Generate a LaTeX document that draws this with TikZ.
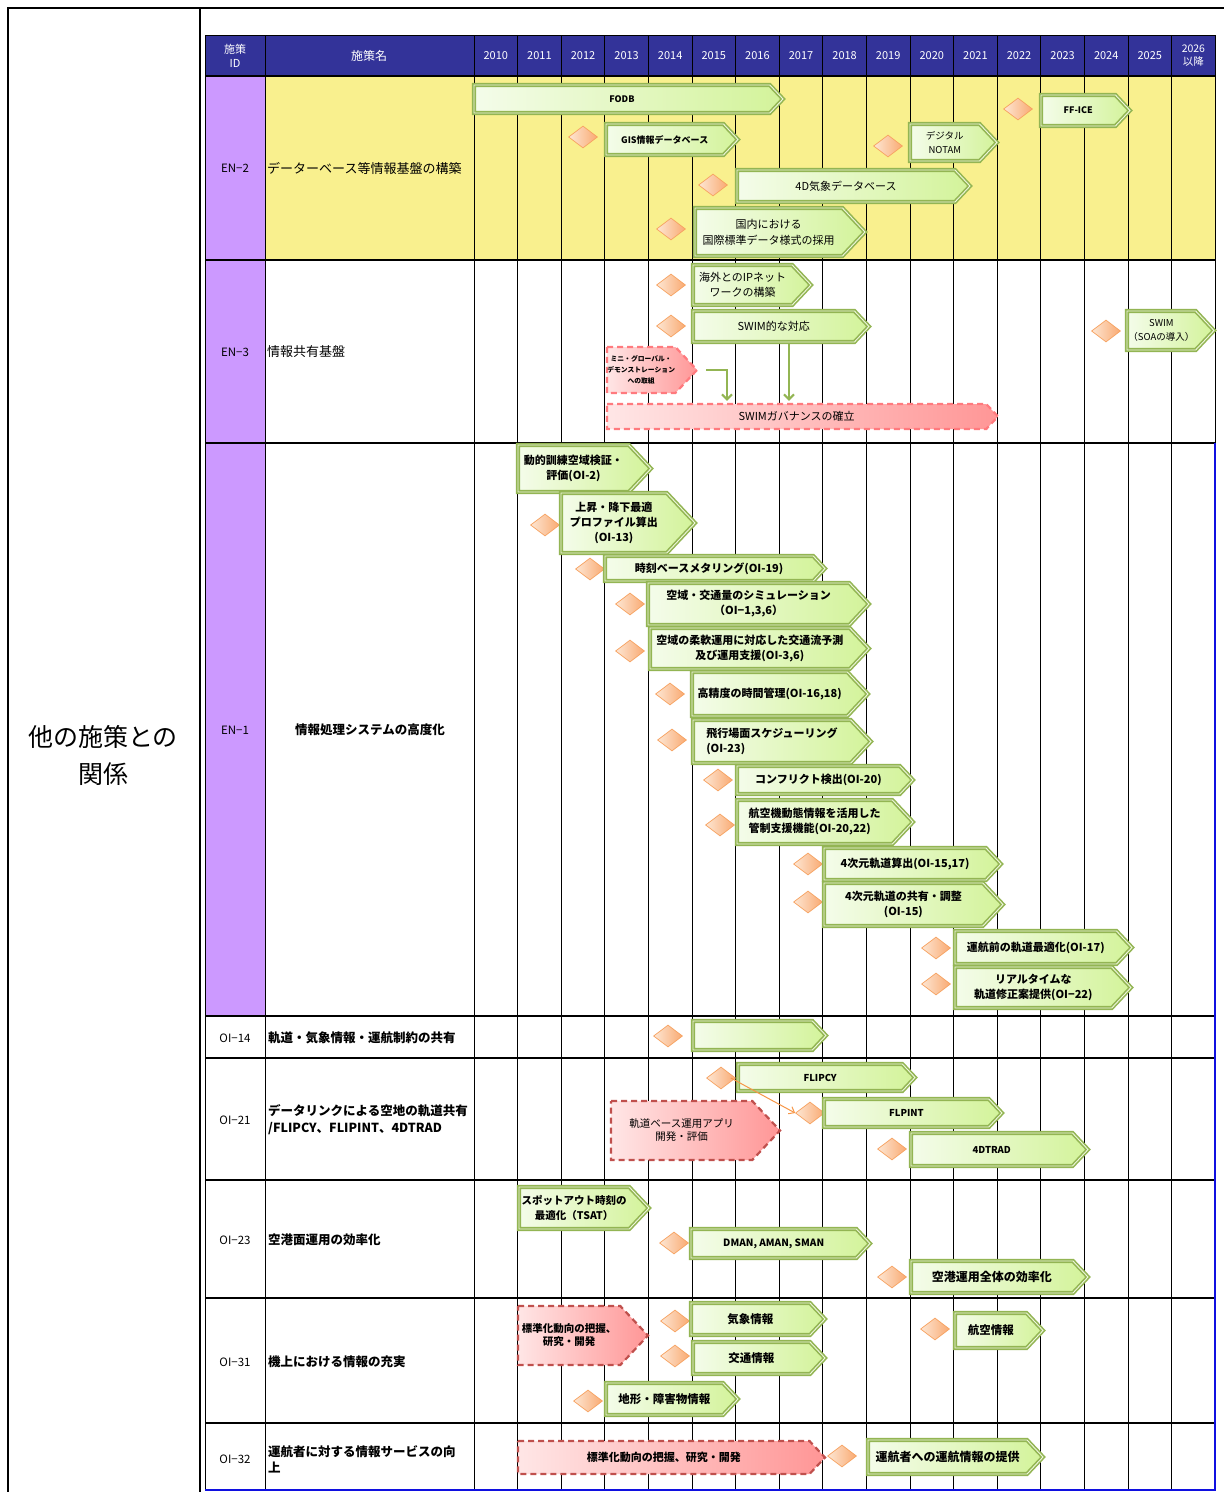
\documentclass[tikz,border=0pt]{standalone}
\usepackage{fontspec}
\setmainfont{Noto Sans CJK JP}
\usetikzlibrary{shapes.geometric,arrows.meta}

\definecolor{hdr}{HTML}{333399}
\definecolor{idpurple}{HTML}{CC99FF}
\definecolor{enyellow}{HTML}{F9F08E}
\definecolor{gbd}{HTML}{93B553}
\definecolor{ggap}{HTML}{EEF7DE}
\definecolor{gl}{HTML}{F4FCEA}
\definecolor{gr}{HTML}{D3F39A}
\definecolor{rl}{HTML}{FFE6E6}
\definecolor{rr}{HTML}{FF9696}
\definecolor{rbdA}{HTML}{FF7A7E}
\definecolor{rbdB}{HTML}{C0504D}
\definecolor{dl}{HTML}{FDE6D3}
\definecolor{dr}{HTML}{F9AA72}
\definecolor{dbd}{HTML}{F7A260}
\definecolor{oarr}{HTML}{F79646}
\definecolor{tblue}{HTML}{1010E0}

\newcommand\fs[2]{\fontsize{#1}{#2}\selectfont}

% arrow-shaped bar: style, name, x1, x2, y-top, y-bottom, text options, text
\newcommand\pbar[8]{%
  \pgfmathsetmacro\barD{0.47*(#6-#5)}%
  \pgfmathsetmacro\barM{(#5+#6)/2}%
  \pgfmathsetmacro\barR{#4-\barD}%
  \pgfmathsetmacro\barW{\barR-#3}%
  \pgfmathsetmacro\barH{#6-#5}%
  \path[#1] (#3,#5) -- (\barR,#5) -- (#4,\barM) -- (\barR,#6) -- (#3,#6) -- cycle;
  \node[bartext, minimum width=\barW pt, minimum height=\barH pt, #7] (#2) at ({(#3+\barR)/2},\barM) {#8};
}

\begin{document}
\begin{tikzpicture}[x=1pt,y=-1pt,
  gbar/.style={draw=gbd, line width=1.6pt, double=ggap, double distance=0.9pt,
    left color=gl, right color=gr, line join=miter},
  rbarA/.style={draw=rbdA, line width=2.2pt, dash pattern=on 6pt off 4pt,
    left color=rl, right color=rr},
  rbarB/.style={draw=rbdB, line width=2.2pt, dash pattern=on 6pt off 4pt,
    left color=rl, right color=rr},
  dmd/.style={diamond, minimum width=29pt, minimum height=22pt, inner sep=0pt,
    draw=dbd, line width=0.7pt, left color=dl, right color=dr},
  bartext/.style={inner sep=0pt, align=center, font=\bfseries\fs{11}{15}},
  gridline/.style={draw=black, line width=0.8pt},
  rowline/.style={draw=black, line width=1.2pt},
  hdrtxt/.style={text=white, align=center, font=\fs{11}{14}},
  idtxt/.style={font=\fs{11.5}{14}},
  nametxt/.style={anchor=west, align=left, inner sep=0pt},
  garrow/.style={draw=gbd, line width=2pt, -{Straight Barb[length=5pt,width=10pt]}},
  oarrow/.style={draw=oarr, line width=1pt, -{Straight Barb[length=5pt,width=8pt]}}]

\useasboundingbox (0,0) rectangle (1224,1492);
\fill[white] (0,0) rectangle (1224,1492);

% outer frame and left label column
\draw[line width=2pt] (8,1492) -- (8,8) -- (1224,8);
\draw[line width=2pt] (200,8) -- (200,1492);
\node[align=center, font=\fs{25}{37}] (rel) at (103,755) {他の施策との\\関係};

% backgrounds
\fill[hdr] (205,35) rectangle (1215,76);
\fill[enyellow] (265,76) rectangle (1215,260);
\fill[idpurple] (205,76) rectangle (265,1016);

% grid
\foreach \i in {0,...,16}
  \draw[gridline] ({474+\i*43.6},35) -- ({474+\i*43.6},1490);
\draw[gridline] (265,35) -- (265,1490);
\draw[line width=1pt] (205,35) -- (1215,35);
\draw[line width=1pt] (205,35) -- (205,1490);
\foreach \yy in {76,260,1016,1058,1180,1298,1423}
  \draw[rowline] (205,\yy) -- (1215,\yy);
\draw[line width=2.2pt] (205,443) -- (1215,443);
\draw[line width=1pt] (1215,35) -- (1215,443);
\draw[tblue, line width=1.5pt] (1215,443) -- (1215,1490) -- (205,1490);

% header
\node[hdrtxt] (hid) at (235,56) {施策\\ID};
\node[hdrtxt, font=\fs{12}{14}] (hname) at (369,56) {施策名};
\foreach \yr [count=\k from 0] in {2010,...,2025}
  \node[hdrtxt] (y\yr) at ({474+43.6*(\k+0.5)},56) {\yr};
\node[hdrtxt, font=\fs{10.5}{13}] (y2026) at ({474+43.6*16.5},56) {2026\\以降};

% row captions
\node[idtxt] (idEN2) at (235,168) {EN−2};
\node[idtxt] (idEN3) at (235,352) {EN−3};
\node[idtxt] (idEN1) at (235,730) {EN−1};
\node[idtxt] (idOI14) at (235,1038) {OI−14};
\node[idtxt] (idOI21) at (235,1120) {OI−21};
\node[idtxt] (idOI23) at (235,1240) {OI−23};
\node[idtxt] (idOI31) at (235,1362) {OI−31};
\node[idtxt] (idOI32) at (235,1459) {OI−32};

\node[nametxt, font=\fs{13}{16}] (nEN2) at (267,168) {データーベース等情報基盤の構築};
\node[nametxt, font=\fs{13}{16}] (nEN3) at (267,352) {情報共有基盤};
\node[font=\bfseries\fs{12.5}{16}] (nEN1) at (370,730) {情報処理システムの高度化};
\node[nametxt, font=\bfseries\fs{12.5}{16}] (nOI14) at (268,1038) {軌道・気象情報・運航制約の共有};
\node[nametxt, font=\bfseries\fs{12.5}{17}] (nOI21) at (268,1120) {データリンクによる空地の軌道共有\\/FLIPCY、FLIPINT、4DTRAD};
\node[nametxt, font=\bfseries\fs{12.5}{16}] (nOI23) at (268,1240) {空港面運用の効率化};
\node[nametxt, font=\bfseries\fs{12.5}{16}] (nOI31) at (268,1362) {機上における情報の充実};
\node[nametxt, font=\bfseries\fs{12.5}{16}] (nOI32) at (268,1459) {運航者に対する情報サービスの向\\上};

% EN-2: information infrastructure
\node[dmd] (d01) at (583,137) {};
\node[dmd] (d02) at (888,146) {};
\node[dmd] (d03) at (1018,109) {};
\node[dmd] (d04) at (713,185) {};
\node[dmd] (d05) at (671,229) {};
\pbar{gbar}{fodb}{474}{783}{85}{113}{font=\bfseries\fs{9}{11}}{FODB}
\pbar{gbar}{gis}{606}{738}{124}{155}{font=\bfseries\fs{9}{11}}{GIS情報データベース}
\pbar{gbar}{notam}{910}{997}{124}{161}{font=\fs{9.5}{14}}{デジタル\\NOTAM}
\pbar{gbar}{ffice}{1041}{1130}{95}{126}{font=\bfseries\fs{9}{11}}{FF-ICE}
\pbar{gbar}{wxdb}{737}{970}{170}{202}{font=\fs{11}{14}}{4D気象データベース}
\pbar{gbar}{intl}{695}{865}{208}{256}{font=\fs{11}{16}}{国内における\\国際標準データ様式の採用}

% EN-3: information sharing
\node[dmd] (d06) at (671,285) {};
\node[dmd] (d07) at (671,326) {};
\node[dmd] (d08) at (1106,331) {};
\pbar{gbar}{ipnet}{693}{811}{265}{305}{font=\fs{11}{15}}{海外とのIPネット\\ワークの構築}
\pbar{gbar}{swimr}{693}{869}{311}{342}{font=\fs{11}{14}}{SWIM的な対応}
\pbar{rbarA}{mini}{607}{697}{347}{393}{font=\bfseries\fs{6.8}{11}}{ミニ・グローバル・\\デモンストレーション\\への取組}
\pbar{rbarA}{gov}{607}{998}{404}{429}{font=\fs{11}{14}}{SWIMガバナンスの確立}
\pbar{gbar}{soa}{1127}{1214}{311}{350}{font=\fs{9.5}{14}}{SWIM\\（SOAの導入）}
\coordinate (mt) at (706,370);
\coordinate (mc) at (727,370);
\coordinate (sw) at (789,370);
\draw[garrow, shorten >=3pt] (mt) -- (mc) -- (mc |- gov.north);
\draw[garrow, shorten >=3pt, shorten <=2pt] (swimr.south -| sw) -- (gov.north -| sw);

% EN-1: processing systems
\node[dmd] (d11) at (545,525) {};
\node[dmd] (d12) at (590,569) {};
\node[dmd] (d13) at (630,604) {};
\node[dmd] (d14) at (630,651) {};
\node[dmd] (d15) at (670,694) {};
\node[dmd] (d16) at (672,740) {};
\node[dmd] (d17) at (718,780) {};
\node[dmd] (d18) at (720,825) {};
\node[dmd] (d19) at (808,864) {};
\node[dmd] (d20) at (808,902) {};
\node[dmd] (d21) at (936,948) {};
\node[dmd] (d22) at (936,984) {};
\pbar{gbar}{oi2}{518}{651}{445}{492}{}{動的訓練空域検証・\\評価(OI-2)}
\pbar{gbar}{oi13}{561}{695}{493}{553}{}{上昇・降下最適\\プロファイル算出\\(OI-13)}
\pbar{gbar}{oi19}{605}{825}{556}{581}{}{時刻ベースメタリング(OI-19)}
\pbar{gbar}{oi136}{648}{869}{583}{625}{}{空域・交通量のシミュレーション\\（OI−1,3,6）}
\pbar{gbar}{oi36}{650}{869}{628}{669}{}{空域の柔軟運用に対応した交通流予測\\及び運用支援(OI-3,6)}
\pbar{gbar}{oi1618}{692}{868}{672}{716}{}{高精度の時間管理(OI-16,18)}
\pbar{gbar}{oi23s}{693}{871}{720}{763}{align=left}{飛行場面スケジューリング\\(OI-23)}
\pbar{gbar}{oi20}{737}{913}{766}{794}{}{コンフリクト検出(OI-20)}
\pbar{gbar}{oi2022}{737}{913}{800}{844}{align=left}{航空機動態情報を活用した\\管制支援機能(OI-20,22)}
\pbar{gbar}{oi1517}{824}{1001}{848}{880}{}{4次元軌道算出(OI-15,17)}
\pbar{gbar}{oi15}{824}{1003}{883}{926}{}{4次元軌道の共有・調整\\(OI-15)}
\pbar{gbar}{oi17}{955}{1132}{931}{964}{}{運航前の軌道最適化(OI-17)}
\pbar{gbar}{oi22}{955}{1131}{967}{1008}{}{リアルタイムな\\軌道修正案提供(OI−22)}

% OI-14
\node[dmd] (d31) at (668,1036) {};
\pbar{gbar}{oi14}{693}{826}{1021}{1050}{}{}

% OI-21
\node[dmd] (dfc) at (721,1078) {};
\node[dmd] (dfp) at (810,1113) {};
\node[dmd] (d4d) at (892,1149) {};
\pbar{rbarB}{traj}{611}{780}{1101}{1160}{font=\fs{10.5}{13}}{軌道ベース運用アプリ\\開発・評価}
\pbar{gbar}{flipcy}{738}{915}{1064}{1091}{font=\bfseries\fs{9.5}{12}}{FLIPCY}
\pbar{gbar}{flpint}{824}{1002}{1099}{1127}{font=\bfseries\fs{9.5}{12}}{FLPINT}
\pbar{gbar}{tdtrad}{911}{1088}{1133}{1166}{font=\bfseries\fs{9.5}{12}}{4DTRAD}
\draw[oarrow] ([xshift=-5pt]dfc.east) -- (dfp.west);

% OI-23
\node[dmd] (d41) at (674,1243) {};
\node[dmd] (d42) at (892,1277) {};
\pbar{gbar}{tsat}{519}{649}{1187}{1229}{font=\bfseries\fs{10.5}{15}}{スポットアウト時刻の\\最適化（TSAT）}
\pbar{gbar}{dman}{691}{870}{1229}{1258}{font=\bfseries\fs{10}{12}}{DMAN, AMAN, SMAN}
\pbar{gbar}{apt}{911}{1088}{1261}{1293}{font=\bfseries\fs{12}{14}}{空港運用全体の効率化}

% OI-31
\node[dmd] (d51) at (675,1321) {};
\node[dmd] (d52) at (675,1356) {};
\node[dmd] (d53) at (588,1401) {};
\node[dmd] (d54) at (935,1329) {};
\pbar{rbarB}{std1}{518}{648}{1306}{1365}{font=\bfseries\fs{10.5}{13}}{標準化動向の把握、\\研究・開発}
\pbar{gbar}{wxinfo}{691}{825}{1303}{1335}{font=\bfseries\fs{11.5}{14}}{気象情報}
\pbar{gbar}{trinfo}{693}{825}{1342}{1374}{font=\bfseries\fs{11.5}{14}}{交通情報}
\pbar{gbar}{terr}{606}{738}{1383}{1415}{font=\bfseries\fs{11.5}{14}}{地形・障害物情報}
\pbar{gbar}{aero}{955}{1043}{1313}{1348}{font=\bfseries\fs{11.5}{14}}{航空情報}

% OI-32
\node[dmd] (d61) at (842,1456) {};
\pbar{rbarB}{std2}{518}{825}{1441}{1474}{font=\bfseries\fs{11}{14}}{標準化動向の把握、研究・開発}
\pbar{gbar}{opinfo}{868}{1043}{1440}{1474}{font=\bfseries\fs{12}{14}}{運航者への運航情報の提供}

\end{tikzpicture}
\end{document}
